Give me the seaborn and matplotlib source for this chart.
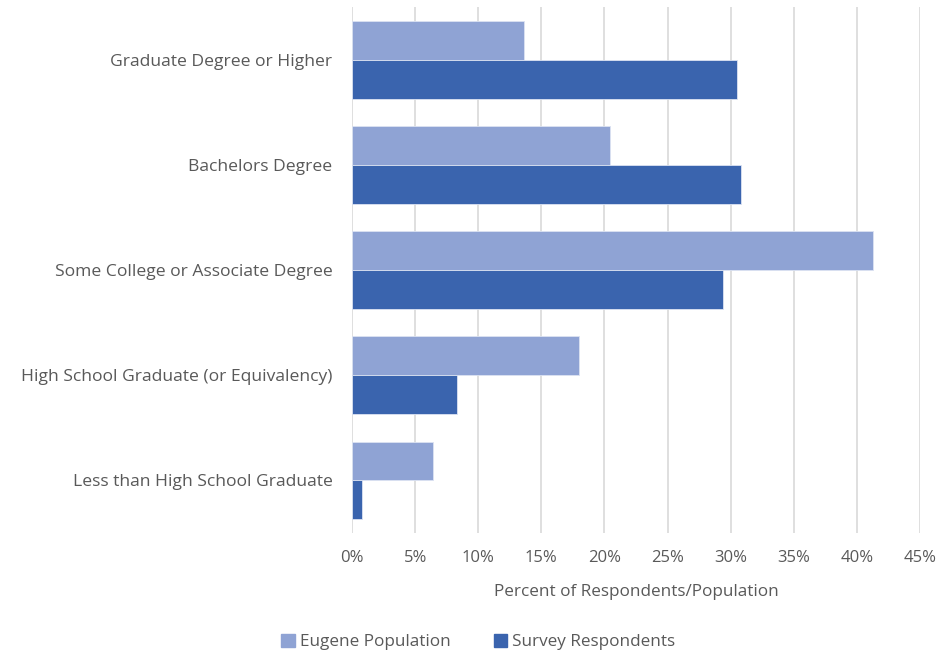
import pandas as pd
import seaborn as sns
import matplotlib.pyplot as plt
from matplotlib.ticker import FuncFormatter

# Education levels, top to bottom
categories = [
    'Graduate Degree or Higher',
    'Bachelors Degree',
    'Some College or Associate Degree',
    'High School Graduate (or Equivalency)',
    'Less than High School Graduate',
]
eugene_population = [13.6, 20.4, 41.3, 18.0, 6.4]
survey_respondents = [30.5, 30.8, 29.4, 8.3, 0.8]
series_names = ['Eugene Population', 'Survey Respondents']
x_ticks = [0, 5, 10, 15, 20, 25, 30, 35, 40, 45]

df = pd.DataFrame({
    'Category': categories * 2,
    'Series': [series_names[0]] * len(categories) + [series_names[1]] * len(categories),
    'Percent': eugene_population + survey_respondents,
})

sns.set_style('white')
plt.rcParams['font.family'] = ['Open Sans', 'DejaVu Sans']
text_color = '#595959'

fig = plt.figure(figsize=(9.38, 6.54), dpi=100)
ax = fig.add_axes([0.3753, 0.185, 0.6055, 0.804])

palette = {series_names[0]: '#8FA3D4', series_names[1]: '#3A64AE'}
sns.barplot(data=df, y='Category', x='Percent', hue='Series', hue_order=series_names,
            order=categories, palette=palette, orient='h', width=0.74,
            saturation=1, ax=ax, zorder=3, edgecolor='#DCE3F2', linewidth=0.6)

ax.set_xlim(0, 45)
ax.set_xticks(x_ticks)
ax.xaxis.set_major_formatter(FuncFormatter(lambda v, p: f'{v:.0f}%'))
ax.grid(axis='x', color='#D9D9D9', linewidth=1.2, zorder=0)
ax.set_axisbelow(True)
for s in ax.spines.values():
    s.set_visible(False)
ax.tick_params(axis='both', length=0, colors=text_color)
ax.tick_params(axis='x', pad=12, labelsize=12)
ax.tick_params(axis='y', pad=14, labelsize=12.6)
ax.set_ylabel('')
ax.set_xlabel('Percent of Respondents/Population', fontsize=12.3, color=text_color, labelpad=13)

ax.legend_.remove()
handles = [plt.Rectangle((0, 0), 1, 1, color=palette[n]) for n in series_names]
fig.legend(handles, series_names, loc='center', bbox_to_anchor=(0.51, 0.018),
           ncol=2, frameon=False, fontsize=12.3, handlelength=0.8, handleheight=0.8,
           handletextpad=0.3, columnspacing=2.5, labelcolor=text_color)

fig.savefig('out.png', dpi=100)
